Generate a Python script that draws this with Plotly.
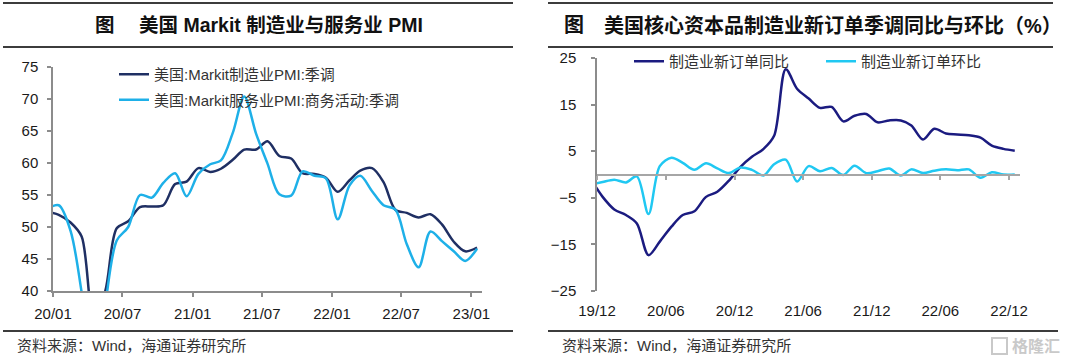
import plotly.graph_objects as go
import pandas as pd

# ---------------- data ----------------
# Left: US Markit PMI, Dec 2019 .. Jan 2023 (monthly)
pmi_months = pd.date_range("2019-12-01", periods=38, freq="MS") + pd.Timedelta(days=15)
mfg_pmi = [52.4,
           51.9, 50.7, 48.5, 36.1, 39.8, 49.8, 50.9, 53.1, 53.2, 53.4, 56.7, 57.1,
           59.2, 58.6, 59.1, 60.5, 62.1, 62.1, 63.4, 61.1, 60.7, 58.4, 58.3, 57.7,
           55.5, 57.3, 58.8, 59.2, 57.0, 52.7, 52.2, 51.5, 52.0, 50.4, 47.7, 46.2,
           46.8]
svc_pmi = [52.8,
           53.4, 49.4, 39.8, 26.7, 37.5, 47.9, 50.0, 55.0, 54.6, 56.9, 58.4, 54.8,
           58.3, 59.8, 60.4, 64.7, 70.4, 64.6, 59.9, 55.1, 54.9, 58.7, 58.0, 57.6,
           51.2, 56.5, 58.0, 55.6, 53.4, 52.7, 47.3, 43.7, 49.3, 47.8, 46.2, 44.7,
           46.6]
left_tick_dates = pd.date_range("2020-01-01", periods=7, freq="6MS")
left_tick_labels = ["20/01", "20/07", "21/01", "21/07", "22/01", "22/07", "23/01"]

# Right: US core capital goods new orders, Nov 2019 .. Dec 2022 (monthly, %)
ord_months = pd.date_range("2019-11-01", periods=38, freq="MS") + pd.Timedelta(days=15)
orders_yoy = [-1.2, -4.8,
              -7.5, -8.7, -10.5, -17.3, -14.4, -11.2, -8.7, -7.9, -4.8, -3.7, -1.3, 1.6,
              3.8, 5.5, 8.3, 22.6, 18.4, 16.3, 14.3, 14.5, 11.4, 12.6, 13.0, 11.2,
              11.6, 11.6, 10.5, 7.5, 9.8, 8.8, 8.6, 8.4, 7.9, 6.2, 5.5, 5.1]
orders_mom = [-2.2, -1.6,
              -1.1, -1.7, -0.4, -8.5, 1.8, 3.6, 2.5, 1.0, 2.4, 1.3, 0.3, 1.5,
              1.0, -0.2, 2.2, 3.2, -1.5, 1.8, 0.7, 1.4, -0.1, 1.9, 0.3, 0.7,
              1.3, -0.2, 1.1, 0.3, 0.8, 1.1, 0.9, 1.1, -0.7, 0.5, 0.0, 0.0]
right_tick_dates = pd.date_range("2019-12-01", periods=7, freq="6MS")
right_tick_labels = ["19/12", "20/06", "20/12", "21/06", "21/12", "22/06", "22/12"]

# ---------------- style ----------------
W, H = 1080, 361
DARK_L = "#1f2f63"
LIGHT_L = "#1eb0e8"
DARK_R = "#1b1b80"
LIGHT_R = "#20c8f2"
AXIS = "#8c8c8c"
FONT = "Liberation Sans, Noto Sans CJK SC, sans-serif"


def px(x):
    return x / W


def py(y):
    return (H - y) / H


fig = go.Figure()
line_kw = dict(width=2.5, shape="spline", smoothing=0.9)
fig.add_trace(go.Scatter(x=pmi_months, y=mfg_pmi, name="美国:Markit制造业PMI:季调",
                         mode="lines", line=dict(color=DARK_L, **line_kw),
                         xaxis="x", yaxis="y", legend="legend", legendgroup="a"))
fig.add_trace(go.Scatter(x=pmi_months, y=svc_pmi, name="美国:Markit服务业PMI:商务活动:季调",
                         mode="lines", line=dict(color=LIGHT_L, **line_kw),
                         xaxis="x", yaxis="y", legend="legend", legendgroup="b"))
fig.add_trace(go.Scatter(x=ord_months, y=orders_yoy, name="制造业新订单同比",
                         mode="lines", line=dict(color=DARK_R, **line_kw),
                         xaxis="x2", yaxis="y2", legend="legend2"))
fig.add_trace(go.Scatter(x=ord_months, y=orders_mom, name="制造业新订单环比",
                         mode="lines", line=dict(color=LIGHT_R, **line_kw),
                         xaxis="x3", yaxis="y2", legend="legend2"))

tickfont = dict(family=FONT, size=15, color="#1a1a1a")
common_axis = dict(showgrid=False, zeroline=False, linecolor=AXIS, linewidth=1.5,
                   tickcolor=AXIS, ticklen=4, tickwidth=1.5, tickfont=tickfont,
                   automargin=False)

y_bot, y_top_l, y_top_r = py(291), py(67), py(58)

fig.update_layout(
    width=W, height=H, margin=dict(l=0, r=0, t=0, b=0, autoexpand=False),
    paper_bgcolor="white", plot_bgcolor="white",
    xaxis=dict(domain=[px(53), px(482)], anchor="y", type="date",
               range=["2020-01-01", "2023-01-29"], tickmode="array",
               tickvals=list(left_tick_dates), ticktext=left_tick_labels,
               showline=True, ticks="outside", ticklabelstandoff=4, **common_axis),
    yaxis=dict(domain=[y_bot, y_top_l], anchor="x", range=[40, 75], dtick=5, tick0=40,
               showline=True, ticks="outside", ticklabelstandoff=6, **common_axis),
    xaxis2=dict(domain=[px(597), px(1020)], anchor="y2", type="date",
                range=["2019-12-01", "2022-12-30"], tickmode="array",
                tickvals=list(right_tick_dates), ticktext=right_tick_labels,
                showline=False, ticks="", ticklabelstandoff=9, **common_axis),
    xaxis3=dict(overlaying="x2", anchor="free", position=(y_bot + y_top_r) / 2,
                type="date", range=["2019-12-01", "2022-12-30"], tickmode="array",
                tickvals=list(right_tick_dates), showticklabels=False,
                showline=True, ticks="outside", showgrid=False, zeroline=False,
                linecolor="#a6a6a6", linewidth=2, tickcolor="#a6a6a6", ticklen=4,
                tickwidth=1.5, automargin=False),
    yaxis2=dict(domain=[y_bot, y_top_r], anchor="x2", range=[-25, 25], dtick=10,
                tick0=-25, showline=True, ticks="outside", ticklabelstandoff=12,
                **common_axis),
    legend=dict(x=px(114), y=py(58), xanchor="left", yanchor="top",
                bgcolor="rgba(0,0,0,0)", tracegroupgap=3,
                font=dict(family=FONT, size=15, color="#333333")),
    legend2=dict(orientation="h", x=px(629), y=py(45), xanchor="left", yanchor="top",
                 bgcolor="rgba(0,0,0,0)", entrywidth=147, entrywidthmode="pixels",
                 font=dict(family=FONT, size=15, color="#333333")),
    showlegend=True,
)

# Titles
anns = [
    dict(text="图", x=px(93), size=19.5),
    dict(text="美国 Markit 制造业与服务业 PMI", x=px(137), size=19.5),
    dict(text="图", x=px(562), size=20),
    dict(text="美国核心资本品制造业新订单季调同比与环比（%）", x=px(602), size=20),
]
for a in anns:
    fig.add_annotation(text=a["text"], x=a["x"], y=py(25), xref="paper", yref="paper",
                       xanchor="left", yanchor="middle", showarrow=False,
                       font=dict(family=FONT, size=a["size"], color="#111111", weight=700))

src_font = dict(family=FONT, size=15, color="#333333")
for x0 in (15, 560):
    fig.add_annotation(text="资料来源：Wind，海通证券研究所", xref="paper", yref="paper",
                       x=px(x0), y=py(345), xanchor="left", yanchor="middle",
                       showarrow=False, font=src_font)

# watermark
fig.add_annotation(text="格隆汇", xref="paper", yref="paper", x=px(1062), y=py(346),
                   xanchor="right", yanchor="middle", showarrow=False,
                   font=dict(family=FONT, size=16, color="#c9c9c9", weight=700))
fig.add_shape(type="rect", xref="paper", yref="paper", x0=px(992), x1=px(1007),
              y0=py(354), y1=py(338), line=dict(color="#c9c9c9", width=2))

# rules
rule = dict(color="#3c3c3c", width=2)
for (x0, x1) in ((3, 513), (548, 1053)):
    for y in (3, 47):
        fig.add_shape(type="line", xref="paper", yref="paper", x0=px(x0), x1=px(x1),
                      y0=py(y), y1=py(y), line=rule)
for (x0, x1) in ((3, 513), (548, 1058)):
    fig.add_shape(type="line", xref="paper", yref="paper", x0=px(x0), x1=px(x1),
                  y0=py(331), y1=py(331), line=rule)

fig.write_html("out.html", config={"displayModeBar": False},
               post_script="document.body.style.margin='0';document.body.style.overflow='hidden';")
